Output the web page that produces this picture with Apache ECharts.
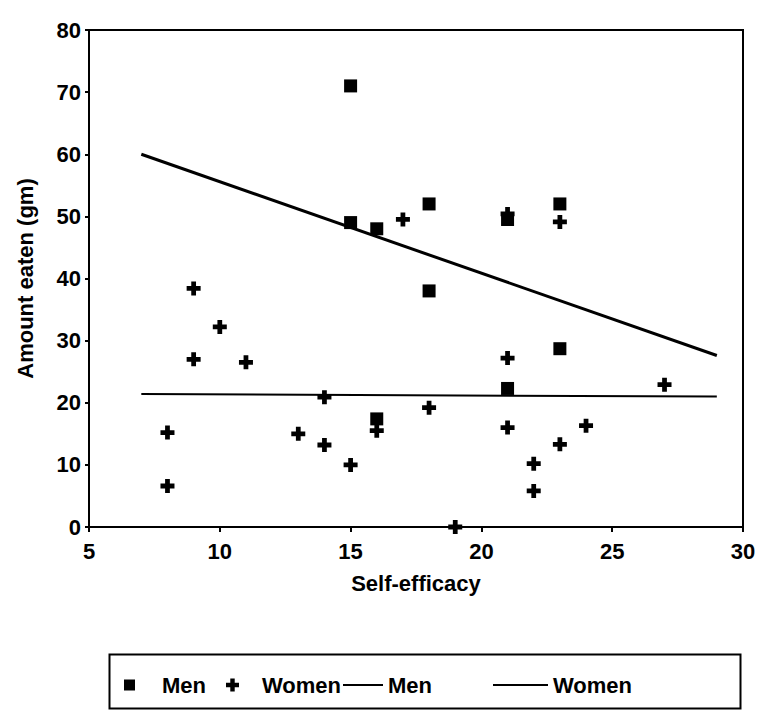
<!DOCTYPE html>
<html><head><meta charset="utf-8">
<script src="https://cdn.jsdelivr.net/npm/echarts/dist/echarts.min.js"></script>
<style>html,body{margin:0;padding:0;background:#fff}#chart{width:760px;height:725px}</style>
</head><body><div id="chart"></div>
<script>
// Men (squares)
const menX = [15, 15, 16, 18, 18, 21, 23, 23, 21, 16];
const menY = [71, 49, 48, 52, 38, 49.5, 52, 28.7, 22.3, 17.4];
// Women (plus)
const womenX = [17, 21, 23, 9, 10, 9, 11, 8, 8, 13, 14, 14, 15, 16, 18, 19, 21, 21, 22, 22, 23, 24, 27];
const womenY = [49.5, 50.4, 49.1, 38.4, 32.2, 27, 26.5, 15.2, 6.6, 15.0, 13.2, 20.9, 10.0, 15.5, 19.2, 0, 27.2, 16.0, 10.2, 5.8, 13.3, 16.3, 22.9];
// Fitted lines (end points)
const menFitX = [7, 29];
const menFitY = [60, 27.6];
const womenFitX = [7, 29];
const womenFitY = [21.4, 21.0];
// Axis ticks
const xTicks = [5, 10, 15, 20, 25, 30];
const yTicks = [0, 10, 20, 30, 40, 50, 60, 70, 80];

const pair = (xs, ys) => xs.map((x, i) => [x, ys[i]]);
const FONT = "'Liberation Sans', Arial, sans-serif";
const txt = { fontFamily: FONT, fontWeight: 'bold', fontSize: 22, color: '#000' };
const PLUS = 'path://M3.3,0 H6.7 V3.3 H10 V6.7 H6.7 V10 H3.3 V6.7 H0 V3.3 H3.3 Z';

const chart = echarts.init(document.getElementById('chart'), null, { renderer: 'svg' });
chart.setOption({
  animation: false,
  backgroundColor: '#fff',
  grid: { left: 89, right: 17, top: 30, bottom: 198, show: true, borderColor: '#000', borderWidth: 2 },
  xAxis: {
    type: 'value', min: xTicks[0], max: xTicks[xTicks.length - 1], interval: xTicks[1] - xTicks[0],
    axisLine: { show: true, lineStyle: { color: '#000', width: 2 } },
    axisTick: { show: true, length: 5, lineStyle: { color: '#000', width: 2 } },
    splitLine: { show: false },
    axisLabel: Object.assign({ margin: 13 }, txt),
    name: 'Self-efficacy', nameLocation: 'middle', nameGap: 45,
    nameTextStyle: txt
  },
  yAxis: {
    type: 'value', min: yTicks[0], max: yTicks[yTicks.length - 1], interval: yTicks[1] - yTicks[0],
    axisLine: { show: true, lineStyle: { color: '#000', width: 2 } },
    axisTick: { show: true, length: 4, lineStyle: { color: '#000', width: 2 } },
    splitLine: { show: false },
    axisLabel: Object.assign({ margin: 8 }, txt),
    name: 'Amount eaten (gm)', nameLocation: 'middle', nameGap: 53,
    nameTextStyle: txt
  },
  legend: [
    { data: ['Men'], left: 119, top: 669, itemWidth: 11, itemHeight: 11, icon: 'rect',
      itemStyle: { opacity: 1 },
      textStyle: Object.assign({ padding: [0, 0, 0, 22] }, txt) },
    { data: ['Women'], left: 221, top: 669, itemWidth: 13, itemHeight: 13, icon: PLUS,
      itemStyle: { opacity: 1 },
      textStyle: Object.assign({ padding: [0, 0, 0, 18] }, txt) },
    { data: ['Men fit'], left: 338, top: 669, itemWidth: 40, itemHeight: 2, icon: 'rect',
      formatter: () => 'Men', textStyle: txt },
    { data: ['Women fit'], left: 488, top: 669, itemWidth: 55, itemHeight: 2, icon: 'rect',
      formatter: () => 'Women', textStyle: txt }
  ],
  graphic: [{
    type: 'rect', left: 107, top: 652, silent: true,
    shape: { width: 631, height: 54 },
    style: { fill: 'none', stroke: '#000', lineWidth: 2 }
  }],
  series: [
    { name: 'Men', type: 'scatter', symbol: 'rect', symbolSize: 13,
      itemStyle: { color: '#000', opacity: 1 }, data: pair(menX, menY), z: 3 },
    { name: 'Women', type: 'scatter', symbol: PLUS, symbolSize: 14,
      itemStyle: { color: '#000', opacity: 1 }, data: pair(womenX, womenY), z: 4 },
    { name: 'Men fit', type: 'line', symbol: 'none', data: pair(menFitX, menFitY),
      lineStyle: { color: '#000', width: 3 }, itemStyle: { color: '#000' } },
    { name: 'Women fit', type: 'line', symbol: 'none', data: pair(womenFitX, womenFitY),
      lineStyle: { color: '#000', width: 2 }, itemStyle: { color: '#000' } }
  ]
});
</script></body></html>
